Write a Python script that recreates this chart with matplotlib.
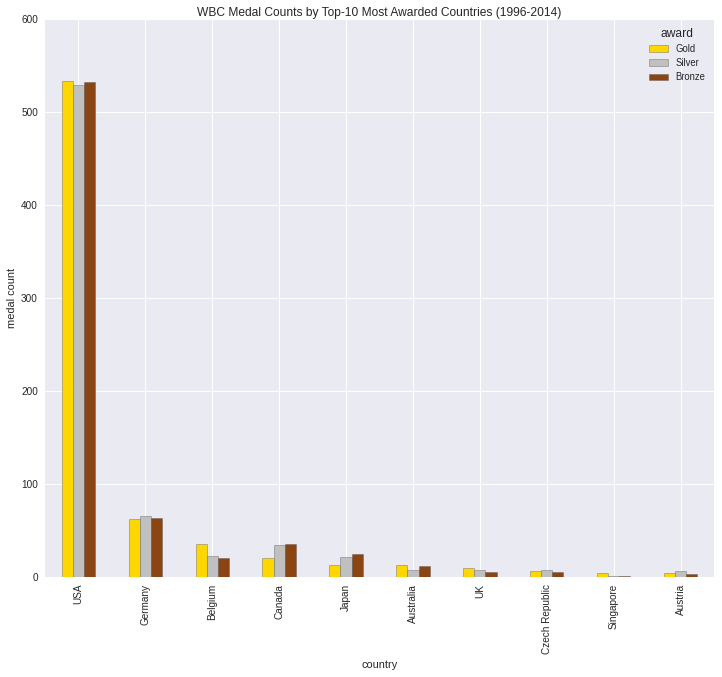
import matplotlib
matplotlib.use("Agg")
import matplotlib.pyplot as plt
import numpy as np

# medal counts
countries = ['USA', 'Germany', 'Belgium', 'Canada', 'Japan', 'Australia',
             'UK', 'Czech Republic', 'Singapore', 'Austria']
gold = [533, 62, 36, 20, 13, 13, 10, 6, 4, 4]
silver = [529, 66, 23, 34, 22, 8, 7, 7, 1, 6]
bronze = [532, 63, 20, 35, 25, 12, 5, 5, 1, 3]

awards = ['Gold', 'Silver', 'Bronze']
series = [gold, silver, bronze]
colors = ['#FFD700', '#C0C0C0', '#8B4513']

plt.rcParams['font.family'] = ['Liberation Sans', 'DejaVu Sans']
plt.rcParams['text.color'] = '.15'
plt.rcParams['axes.labelcolor'] = '.15'
plt.rcParams['xtick.color'] = '.15'
plt.rcParams['ytick.color'] = '.15'

fig = plt.figure(figsize=(722 / 72, 677 / 72), dpi=72)
ax = fig.add_axes([45 / 722, 1 - 577 / 677, 669 / 722, 558 / 677])
ax.set_facecolor('#EAEAF2')
ax.grid(True, color='white', linewidth=1)
ax.set_axisbelow(True)
for s in ax.spines.values():
    s.set_visible(False)

x = np.arange(len(countries))
w = 0.5 / 3
for i, (name, vals, c) in enumerate(zip(awards, series, colors)):
    ax.bar(x + (i - 1) * w, vals, width=w, color=c, label=name,
           edgecolor=(0.3, 0.3, 0.3, 0.35), linewidth=1)

ax.set_xticks(x)
ax.set_xticklabels(countries, rotation=90, fontsize=10)
ax.set_xlim(-0.5, len(countries) - 0.5)
ax.set_ylim(0, 600)
ax.set_yticks(range(0, 601, 100))
ax.tick_params(axis='y', labelsize=10)
ax.tick_params(length=0, pad=7)

ax.set_title('WBC Medal Counts by Top-10 Most Awarded Countries (1996-2014)',
             fontsize=12, pad=3)
ax.set_xlabel('country', fontsize=11, labelpad=6)
ax.set_ylabel('medal count', fontsize=11)
leg = ax.legend(title='award', loc='upper right', frameon=False, fontsize=9.5,
                title_fontsize=12, labelspacing=0.45)

fig.savefig('out.png', dpi=72)
